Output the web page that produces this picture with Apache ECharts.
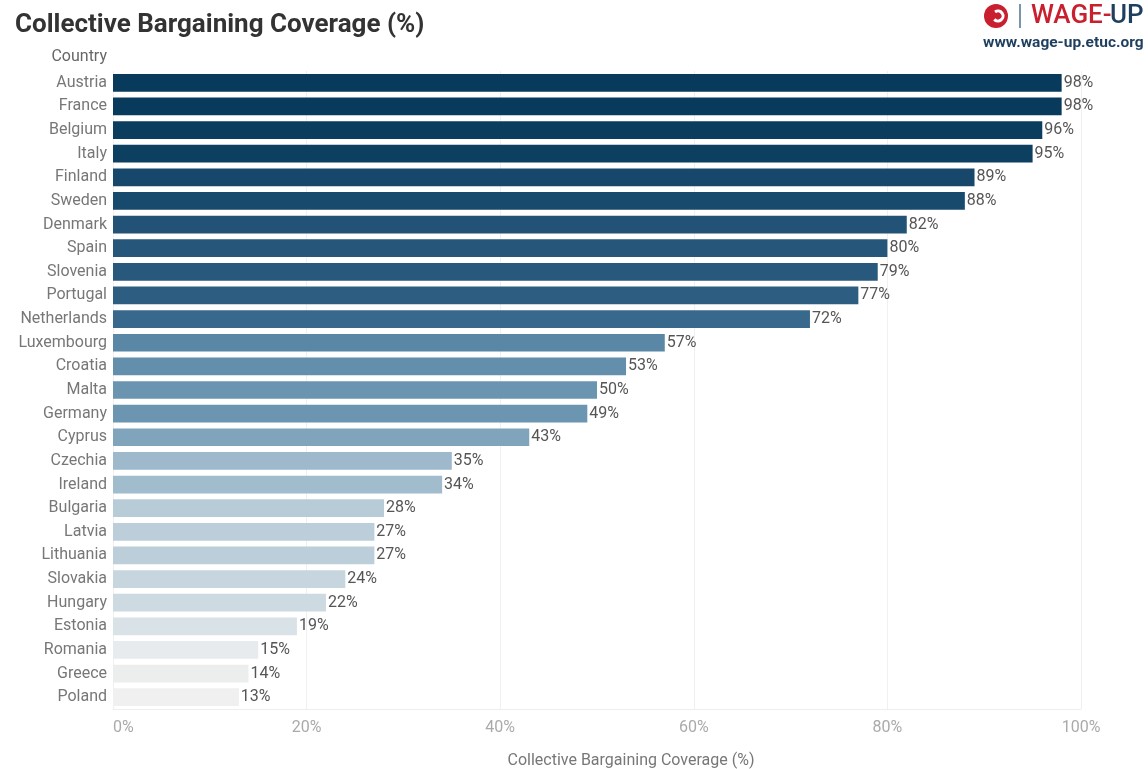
<!DOCTYPE html>
<html>
<head>
<meta charset="utf-8">
<script src="https://cdn.jsdelivr.net/npm/echarts@6/dist/echarts.min.js"></script>
<style>
html,body{margin:0;padding:0;background:#fff;}
#chart{width:1148px;height:769px;}
</style>
</head>
<body>
<div id="chart"></div>
<script>
const countries = ["Austria","France","Belgium","Italy","Finland","Sweden","Denmark","Spain","Slovenia","Portugal","Netherlands","Luxembourg","Croatia","Malta","Germany","Cyprus","Czechia","Ireland","Bulgaria","Latvia","Lithuania","Slovakia","Hungary","Estonia","Romania","Greece","Poland"];
const coverage = [98,98,96,95,89,88,82,80,79,77,72,57,53,50,49,43,35,34,28,27,27,24,22,19,15,14,13];
const xTicks = [0,20,40,60,80,100];

const chart = echarts.init(document.getElementById('chart'));
const FONT = 'Roboto, "Open Sans", sans-serif';
chart.setOption({
  backgroundColor: '#ffffff',
  animation: false,
  title: {
    text: 'Collective Bargaining Coverage (%)',
    left: 10, top: 7,
    textStyle: {fontFamily: FONT, fontWeight: 'bold', fontSize: 26, color: '#333333'}
  },
  grid: {left: 113, right: 67, top: 71, bottom: 60, containLabel: false, outerBoundsMode: 'none'},
  visualMap: {
    show: false,
    type: 'continuous',
    dimension: 0,
    min: 13, max: 98,
    inRange: {color: ['#f0f0f0', '#b0c7d5', '#7199b4', '#4a7b9d', '#245579', '#083a5c']}
  },
  xAxis: {
    type: 'value',
    min: 0, max: 100, interval: 20,
    name: 'Collective Bargaining Coverage (%)',
    nameLocation: 'middle',
    nameGap: 44,
    nameTextStyle: {fontFamily: FONT, fontSize: 16, color: '#777777', padding: [0,0,0,68]},
    axisLine: {show: true, lineStyle: {color: '#eeeeee'}},
    axisTick: {show: false},
    splitLine: {show: true, lineStyle: {color: '#f0f0f0'}},
    axisLabel: {
      fontFamily: FONT, fontSize: 16, color: '#aaaaaa', margin: 11,
      alignMinLabel: 'left',
      formatter: v => xTicks.includes(v) ? v + '%' : ''
    }
  },
  yAxis: {
    type: 'category',
    data: countries,
    inverse: true,
    axisLine: {show: false},
    axisTick: {show: false},
    axisLabel: {fontFamily: FONT, fontSize: 16, color: '#777777', margin: 6}
  },
  series: [{
    type: 'bar',
    data: coverage,
    barWidth: '75%',
    label: {
      show: true, position: 'right', distance: 2,
      fontFamily: FONT, fontSize: 16, color: '#555555',
      formatter: p => p.value + '%'
    }
  }],
  graphic: [
    {type: 'text', right: 1148 - 107, top: 49,
     style: {text: 'Country', fontFamily: FONT, fontSize: 16, fill: '#666666', textAlign: 'right'}},
    {type: 'group', left: 983, top: 3, children: [
      {type: 'circle', shape: {cx: 13, cy: 14, r: 12}, style: {fill: '#c8202f'}},
      {type: 'arc', shape: {cx: 15, cy: 14, r: 5, startAngle: -2.2, endAngle: 2.4}, style: {stroke: '#ffffff', lineWidth: 3, fill: null}},
      {type: 'rect', shape: {x: 36, y: 2, width: 2, height: 24}, style: {fill: '#7a95a8'}},
      {type: 'text', x: 48, y: 1, style: {text: 'WAGE-', fontFamily: FONT, fontSize: 26, fontWeight: 500, fill: '#c8202f'}},
      {type: 'text', x: 127, y: 1, style: {text: 'UP', fontFamily: FONT, fontSize: 26, fontWeight: 500, fill: '#1f3f5f'}},
      {type: 'text', x: 0, y: 33, style: {text: 'www.wage-up.etuc.org', fontFamily: FONT, fontSize: 15.5, fontWeight: 'bold', fill: '#1f3f5f'}}
    ]}
  ]
});
</script>
</body>
</html>
